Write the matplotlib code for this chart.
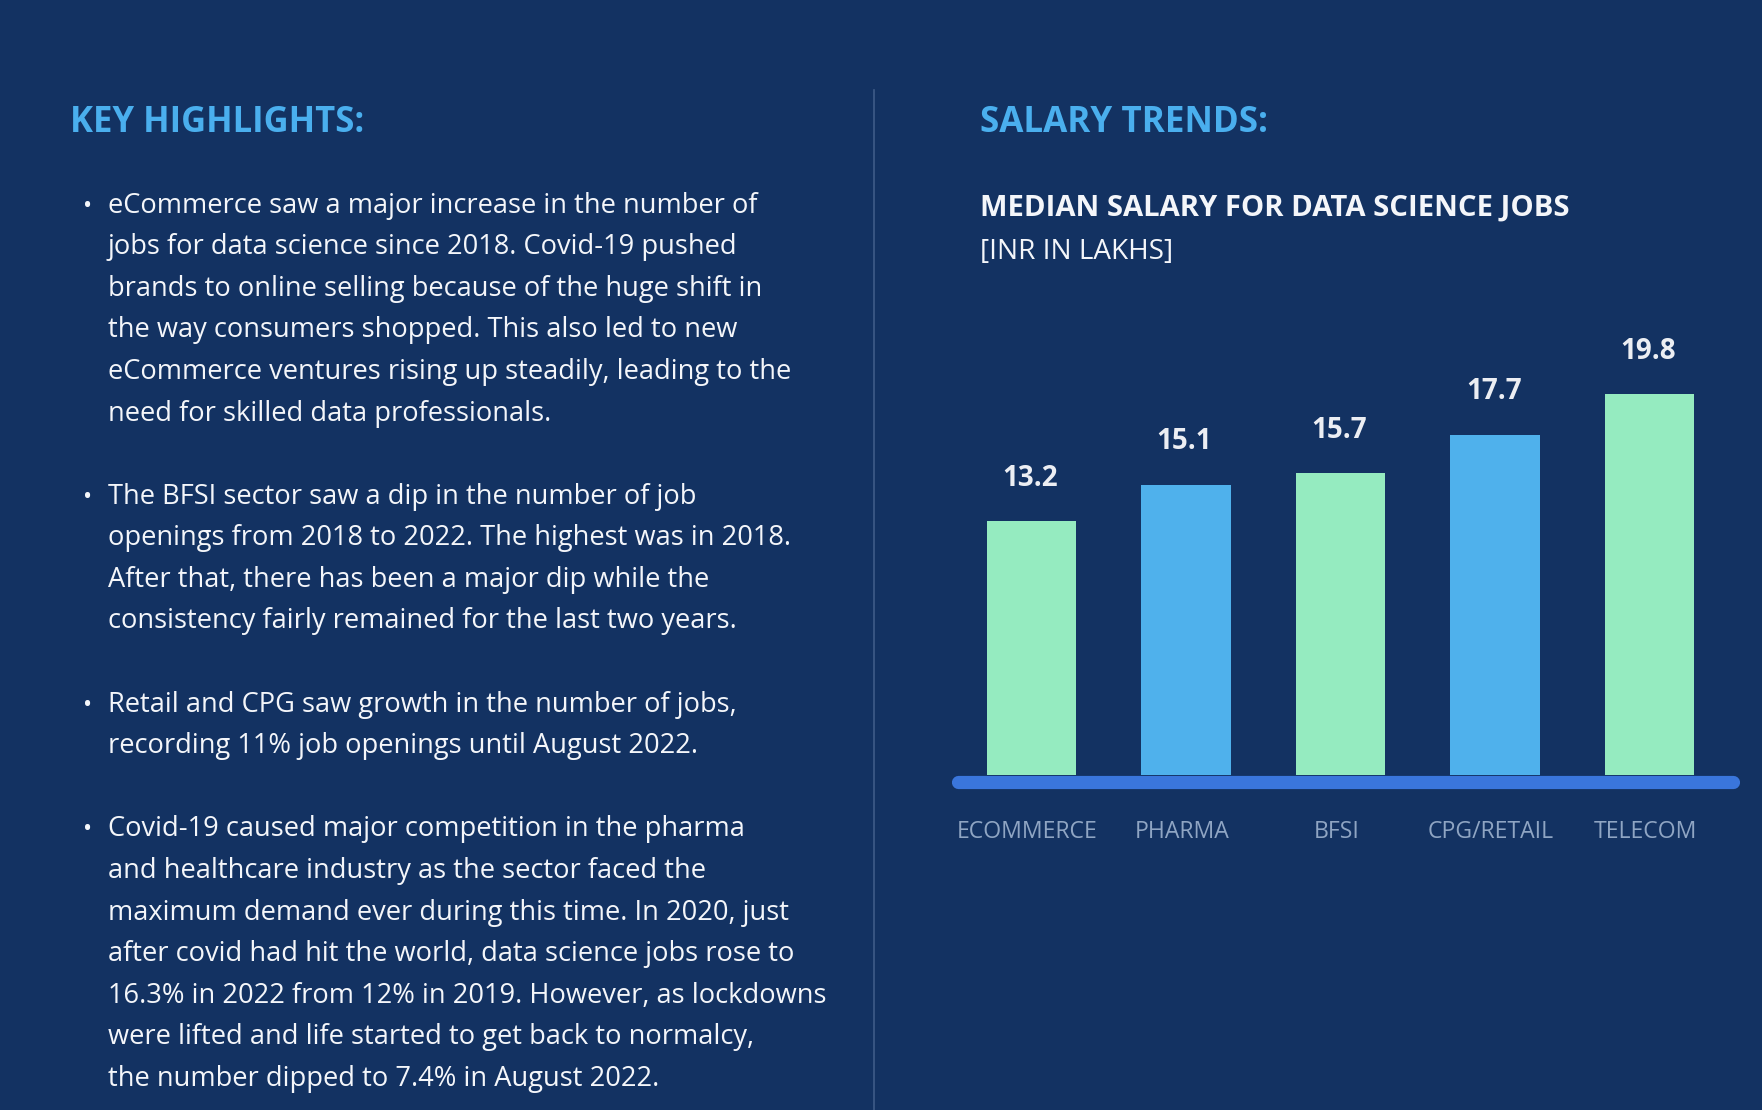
import matplotlib
matplotlib.use("Agg")
import matplotlib.pyplot as plt

# ---------------- data ----------------
categories = ["ECOMMERCE", "PHARMA", "BFSI", "CPG/RETAIL", "TELECOM"]
salaries = [13.2, 15.1, 15.7, 17.7, 19.8]
bar_colors = ["#95EBC0", "#4FB1EC", "#95EBC0", "#4FB1EC", "#95EBC0"]

left_title = "KEY HIGHLIGHTS:"
right_title = "SALARY TRENDS:"
chart_title = "MEDIAN SALARY FOR DATA SCIENCE JOBS"
chart_subtitle = "[INR IN LAKHS]"

paragraphs = [
    ["eCommerce saw a major increase in the number of",
     "jobs for data science since 2018. Covid-19 pushed",
     "brands to online selling because of the huge shift in",
     "the way consumers shopped. This also led to new",
     "eCommerce ventures rising up steadily, leading to the",
     "need for skilled data professionals."],
    ["The BFSI sector saw a dip in the number of job",
     "openings from 2018 to 2022. The highest was in 2018.",
     "After that, there has been a major dip while the",
     "consistency fairly remained for the last two years."],
    ["Retail and CPG saw growth in the number of jobs,",
     "recording 11% job openings until August 2022."],
    ["Covid-19 caused major competition in the pharma",
     "and healthcare industry as the sector faced the",
     "maximum demand ever during this time. In 2020, just",
     "after covid had hit the world, data science jobs rose to",
     "16.3% in 2022 from 12% in 2019. However, as lockdowns",
     "were lifted and life started to get back to normalcy,",
     "the number dipped to 7.4% in August 2022."],
]

# ---------------- style ----------------
BG = "#133262"
HEAD = "#4AAFEE"
WHITE = "#F4F6FA"
CAT = "#8FA5C3"
AXLINE = "#3A76DC"
FONT = ["Open Sans", "DejaVu Sans"]

W, H = 1762, 1110
fig = plt.figure(figsize=(W / 100, H / 100), dpi=100, facecolor=BG)
renderer = fig.canvas.get_renderer()


def fx(x):
    return x / W


def fy(y):
    return 1 - y / H


def fit_text(x, y, s, target_w, size, **kw):
    t = fig.text(fx(x), fy(y), s, fontsize=size, family=FONT, **kw)
    w = t.get_window_extent(renderer).width
    t.set_fontsize(size * target_w / w)
    return t


# headings
fit_text(70, 132.5, left_title, 295, 24, color=HEAD, weight="bold", va="baseline")
fit_text(980, 132.5, right_title, 288, 24, color=HEAD, weight="bold", va="baseline")
fit_text(980, 216, chart_title, 590, 18, color=WHITE, weight="bold", va="baseline")
fit_text(980, 259, chart_subtitle, 193, 18, color=WHITE, weight="normal", va="baseline")

# body paragraphs
probe = fig.text(0, 0, paragraphs[0][0], fontsize=18, family=FONT)
body_size = 18 * 650 / probe.get_window_extent(renderer).width
probe.remove()

line0 = 203.4
step = 41.58
idx = 0
for p in paragraphs:
    for j, line in enumerate(p):
        yc = line0 + idx * step
        if j == 0:
            fig.text(fx(88), fy(yc + 9.3), "\u2022", fontsize=body_size * 0.9,
                     family=FONT, color=WHITE, va="baseline", ha="center")
        fig.text(fx(108), fy(yc + 9.3), line, fontsize=body_size, family=FONT,
                 color=WHITE, va="baseline", ha="left")
        idx += 1
    idx += 1

# divider
fig.add_artist(plt.Line2D([fx(874), fx(874)], [fy(90), fy(1110)],
                          color="#3F5C88", linewidth=1.2))

# ---------------- bar chart ----------------
ax_left, ax_right = 951, 1740
base_y, top_y = 775, 352
ax = fig.add_axes([fx(ax_left), fy(base_y), (ax_right - ax_left) / W, (base_y - top_y) / H])
ax.set_facecolor("none")
ax.set_axis_off()
x = list(range(len(categories)))
ax.bar(x, salaries, width=0.58, color=bar_colors, zorder=3)
ax.set_xlim(-0.52, 4.585)
ax.set_ylim(0, 22)

# axis baseline (rounded)
upx = (ax_right - ax_left) / (4.585 + 0.52)
capd = 6.5 / upx
ypx = 22 / (base_y - top_y)
ax.plot([-0.52 + capd, 4.585 - capd], [-6.5 * ypx, -6.5 * ypx], color=AXLINE,
        linewidth=9.5, solid_capstyle="round", clip_on=False, zorder=2)

for i, (c, v) in enumerate(zip(categories, salaries)):
    ax.annotate(f"{v:.1f}", (i, v), xytext=(-1, 31), textcoords="offset points",
                ha="center", va="center", fontsize=20, weight="bold",
                family=FONT, color="#ECEEF3")
    ax.annotate(c, (i, 0), xytext=(-3, -41), textcoords="offset points",
                ha="center", va="center", fontsize=16.6, family=FONT, color=CAT,
                annotation_clip=False)

fig.savefig("out.png", dpi=100, facecolor=BG)
